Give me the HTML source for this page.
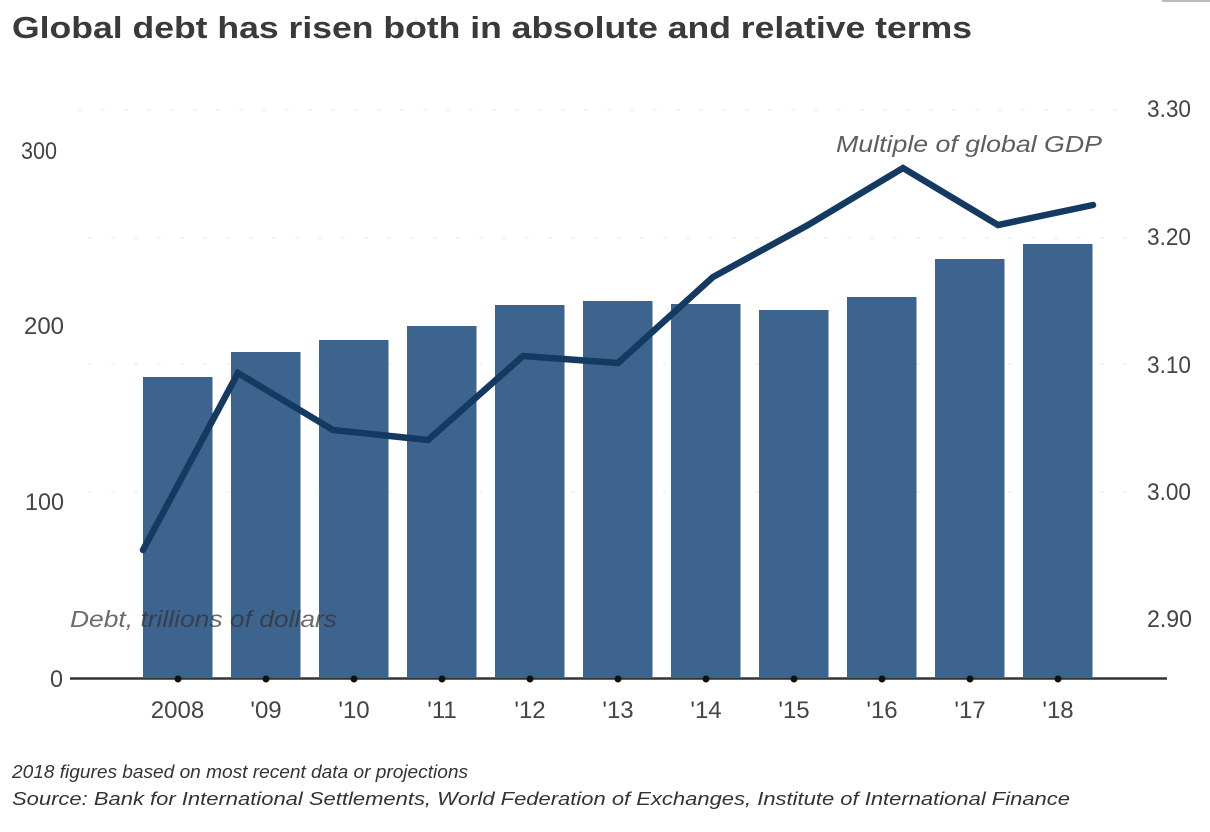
<!DOCTYPE html>
<html>
<head>
<meta charset="utf-8">
<style>
html,body{margin:0;padding:0;background:#fff;}
svg{display:block;}
</style>
</head>
<body>
<svg width="1210" height="832" viewBox="0 0 1210 832" xmlns="http://www.w3.org/2000/svg">
<rect x="0" y="0" width="1210" height="832" fill="#fff"/>
<rect x="1162" y="0" width="48" height="2" fill="#bbb"/>
<text x="12" y="38" font-family="Liberation Sans, sans-serif" font-weight="bold" font-size="31" fill="#3a3a3a" textLength="960" lengthAdjust="spacingAndGlyphs">Global debt has risen both in absolute and relative terms</text>

<g stroke="#efefef" stroke-width="1.5" stroke-dasharray="4 19">
<line x1="78" y1="110" x2="1135" y2="110"/>
<line x1="88" y1="238" x2="1135" y2="238"/>
<line x1="88" y1="364" x2="1135" y2="364"/>
<line x1="88" y1="492" x2="1135" y2="492"/>
</g>

<g font-family="Liberation Sans, sans-serif" font-size="24" fill="#444">
<text x="21" y="159" textLength="36" lengthAdjust="spacingAndGlyphs">300</text>
<text x="24" y="334" textLength="40" lengthAdjust="spacingAndGlyphs">200</text>
<text x="25" y="510" textLength="39" lengthAdjust="spacingAndGlyphs">100</text>
<text x="50" y="687" textLength="13" lengthAdjust="spacingAndGlyphs">0</text>
<text x="1147" y="117" textLength="44" lengthAdjust="spacingAndGlyphs">3.30</text>
<text x="1147" y="245" textLength="44" lengthAdjust="spacingAndGlyphs">3.20</text>
<text x="1147" y="373" textLength="44" lengthAdjust="spacingAndGlyphs">3.10</text>
<text x="1147" y="500" textLength="44" lengthAdjust="spacingAndGlyphs">3.00</text>
<text x="1147" y="627" textLength="45" lengthAdjust="spacingAndGlyphs">2.90</text>
</g>

<line x1="70" y1="678.5" x2="1167" y2="678.5" stroke="#333" stroke-width="2.5"/>

<g fill="#3d638f">
<rect x="143" y="377" width="69.5" height="301"/>
<rect x="231" y="352" width="69.5" height="326"/>
<rect x="319" y="340" width="69.5" height="338"/>
<rect x="407" y="326" width="69.5" height="352"/>
<rect x="495" y="305" width="69.5" height="373"/>
<rect x="583" y="301" width="69.5" height="377"/>
<rect x="671" y="304" width="69.5" height="374"/>
<rect x="759" y="310" width="69.5" height="368"/>
<rect x="847" y="297" width="69.5" height="381"/>
<rect x="935" y="259" width="69.5" height="419"/>
<rect x="1023" y="244" width="69.5" height="434"/>
</g>

<g fill="#111">
<circle cx="178" cy="679" r="3.5"/>
<circle cx="266" cy="679" r="3.5"/>
<circle cx="354" cy="679" r="3.5"/>
<circle cx="442" cy="679" r="3.5"/>
<circle cx="530" cy="679" r="3.5"/>
<circle cx="618" cy="679" r="3.5"/>
<circle cx="706" cy="679" r="3.5"/>
<circle cx="794" cy="679" r="3.5"/>
<circle cx="882" cy="679" r="3.5"/>
<circle cx="970" cy="679" r="3.5"/>
<circle cx="1058" cy="679" r="3.5"/>
</g>

<polyline fill="none" stroke="#143a62" stroke-width="6.5" stroke-linecap="round" stroke-linejoin="miter"
points="143,550 238,373 333,430 428,440 523,356 618,363 713,277 808,225 903,168 998,225 1093,205"/>

<text x="70" y="627" font-family="Liberation Sans, sans-serif" font-style="italic" font-size="23" fill="#333" fill-opacity="0.72" textLength="267" lengthAdjust="spacingAndGlyphs">Debt, trillions of dollars</text>
<text x="836" y="152" font-family="Liberation Sans, sans-serif" font-style="italic" font-size="23" fill="#5e5e5e" textLength="266" lengthAdjust="spacingAndGlyphs">Multiple of global GDP</text>

<g font-family="Liberation Sans, sans-serif" font-size="24" fill="#444" text-anchor="middle">
<text x="177.5" y="718">2008</text>
<text x="266" y="718">'09</text>
<text x="354" y="718">'10</text>
<text x="442" y="718">'11</text>
<text x="530" y="718">'12</text>
<text x="618" y="718">'13</text>
<text x="706" y="718">'14</text>
<text x="794" y="718">'15</text>
<text x="882" y="718">'16</text>
<text x="970" y="718">'17</text>
<text x="1058" y="718">'18</text>
</g>

<text x="12" y="778" font-family="Liberation Sans, sans-serif" font-style="italic" font-size="18" fill="#333" textLength="456" lengthAdjust="spacingAndGlyphs">2018 figures based on most recent data or projections</text>
<text x="12" y="805" font-family="Liberation Sans, sans-serif" font-style="italic" font-size="18" fill="#333" textLength="1058" lengthAdjust="spacingAndGlyphs">Source: Bank for International Settlements, World Federation of Exchanges, Institute of International Finance</text>
</svg>
</body>
</html>
